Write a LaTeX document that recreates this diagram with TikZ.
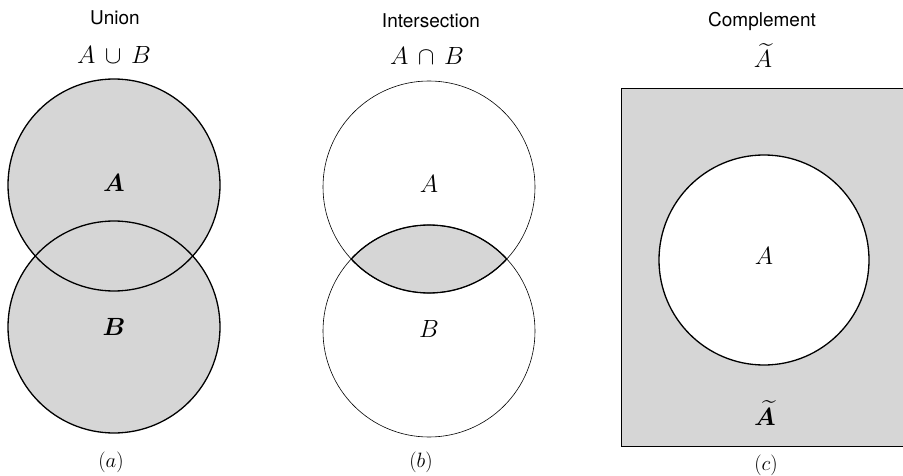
\documentclass[tikz,border=0pt]{standalone}
\usepackage{amsmath}
\usepackage{bm}
\usepackage{fontspec}
\setsansfont{TeX Gyre Heros}
\begin{document}
\begin{tikzpicture}[x=1pt,y=-1pt,
  shadefill/.style={fill=gray!32},
  rim/.style={draw=black,line width=1.3pt},
  fine/.style={draw=black,line width=0.6pt},
  title/.style={anchor=base,inner sep=0pt,font=\sffamily\fontsize{19}{22}\selectfont},
  lab/.style={anchor=base,inner sep=0pt,font=\fontsize{23}{26}\selectfont},
  sublab/.style={inner sep=0pt,font=\fontsize{21}{24}\selectfont}]
\useasboundingbox (0,0) rectangle (903,476);
% ---------- (a) Union ----------
\coordinate (UA) at (114,185);
\coordinate (UB) at (114,327);
\fill[shadefill] (UA) circle[radius=106pt];
\fill[shadefill] (UB) circle[radius=106pt];
\draw[rim] (UA) circle[radius=106pt];
\draw[rim] (UB) circle[radius=106pt];
\node[title] (tU) at (115,25) {Union};
\node[lab] (mU) at (114,64) {$A\,\cup\,B$};
\node[lab] (aU) at (114,192) {$\bm{A}$};
\node[lab] (bU) at (114,335) {$\bm{B}$};
\node[sublab] (ca) at (111,462) {$(a)$};
% ---------- (b) Intersection ----------
\coordinate (IA) at (429,187);
\coordinate (IB) at (429,331);
\begin{scope}
  \clip (IA) circle[radius=106pt];
  \fill[shadefill] (IB) circle[radius=106pt];
  \draw[rim] (IB) circle[radius=106pt];
\end{scope}
\begin{scope}
  \clip (IB) circle[radius=106pt];
  \draw[rim] (IA) circle[radius=106pt];
\end{scope}
\draw[fine] (IA) circle[radius=106pt];
\draw[fine] (IB) circle[radius=106pt];
\node[title] (tI) at (431,28) {Intersection};
\node[lab] (mI) at (427,65) {$A\,\cap\,B$};
\node[lab] (aI) at (429,193) {$A$};
\node[lab] (bI) at (429,337) {$B$};
\node[sublab] (cb) at (421,462) {$(b)$};
% ---------- (c) Complement ----------
\coordinate (RTL) at (621,88);
\coordinate (RBR) at (903,446);
\coordinate (CA) at (764,260);
\fill[shadefill] (RTL) rectangle (RBR);
\draw[fine] (RTL) rectangle (RBR);
\fill[white] (CA) circle[radius=105pt];
\draw[rim] (CA) circle[radius=105pt];
\node[title] (tC) at (762,27) {Complement};
\node[lab] (mC) at (763,68) {$\widetilde{A}$};
\node[lab] (aC) at (764,265) {$A$};
\node[lab] (nC) at (765,425) {$\widetilde{\bm{A}}$};
\node[sublab] (cc) at (766,465) {$(c)$};
\end{tikzpicture}
\end{document}
